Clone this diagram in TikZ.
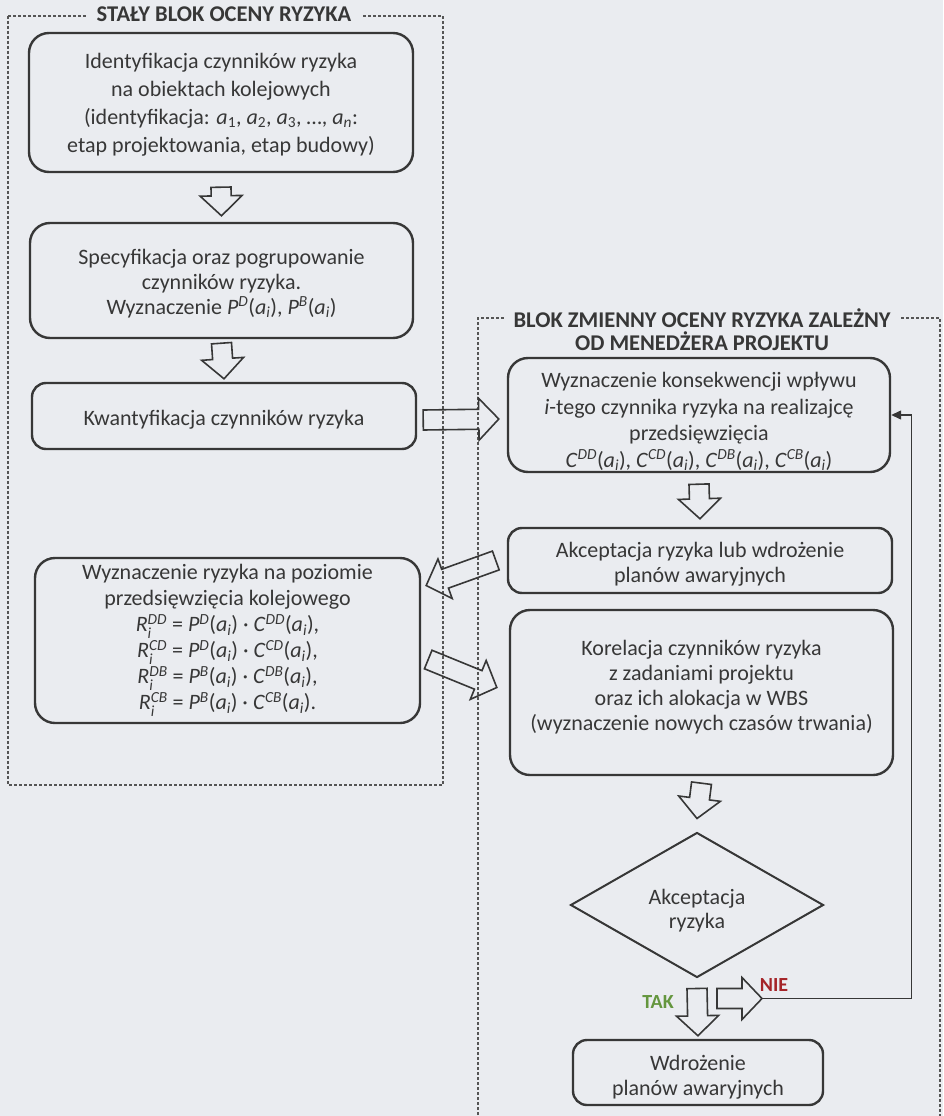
\documentclass[tikz,border=0pt]{standalone}
\usepackage{amsmath}
\usepackage{fontspec}
\setmainfont{Carlito}
\usetikzlibrary{calc,shapes.geometric,arrows.meta}

\definecolor{pagebg}{RGB}{234,236,240}
\definecolor{ink}{RGB}{55,55,55}
\definecolor{framec}{RGB}{85,85,85}
\definecolor{takgreen}{RGB}{100,150,62}
\definecolor{niered}{RGB}{165,36,40}

% italic symbols with indices
\newcommand{\probP}[1]{\textit{P}\textsuperscript{\textit{#1}}}
\newcommand{\consC}[1]{\textit{C}\textsuperscript{\textit{#1}}}
\newcommand{\riskR}[1]{\textit{R}$^{\textit{#1}}_{\textit{i}}$}
\newcommand{\argai}{(\textit{a}\textsubscript{\textit{i}})}
\newcommand{\avar}[1]{\textit{a}\textsubscript{#1}}
% centred block of lines, moved down by #1 inside its node
\newcommand{\lowered}[2]{\raisebox{-#1}[\height][\depth]{%
  \begin{tabular}{@{}c@{}}#2\end{tabular}}}

\tikzset{
  box/.style={draw=ink, line width=2.4pt, rounded corners=20pt, align=center,
    text=ink, inner sep=0pt, font=\fontsize{22}{25}\selectfont},
  smallbox/.style={box, rounded corners=14pt},
  decision/.style={diamond, draw=ink, line width=2pt, align=center, text=ink,
    inner sep=0pt, font=\fontsize{22}{24}\selectfont},
  frame/.style={draw=framec, line width=1.2pt, dash pattern=on 3pt off 2pt},
  frametitle/.style={fill=pagebg, text=ink, align=center, inner ysep=1pt,
    font=\fontsize{22.5}{23}\selectfont\bfseries},
  blockarrow/.style={draw=ink, line width=1.6pt, line join=miter,
    to path={let \p1=(\tikztostart), \p2=(\tikztotarget),
      \n1={atan2(\y2-\y1,\x2-\x1)}, \n2={veclen(\x2-\x1,\y2-\y1)} in
      ($(\p1)+(\n1+90:10pt)$)
      -- ($(\p1)+(\n1+90:10pt)+(\n1:\n2-20pt)$)
      -- ($(\p1)+(\n1+90:21pt)+(\n1:\n2-20pt)$)
      -- (\p2)
      -- ($(\p1)+(\n1-90:21pt)+(\n1:\n2-20pt)$)
      -- ($(\p1)+(\n1-90:10pt)+(\n1:\n2-20pt)$)
      -- ($(\p1)+(\n1-90:10pt)$) -- cycle}},
  feedback/.style={draw=ink, line width=1.3pt, -{Triangle[length=10pt,width=9pt]}},
  answer/.style={font=\fontsize{20}{22}\selectfont\bfseries}
}

\begin{document}
\begin{tikzpicture}[x=1pt,y=-1pt]
\fill[pagebg] (0,0) rectangle (943,1116);
\useasboundingbox (0,0) rectangle (943,1116);

% ---- fixed block -------------------------------------------------------
\draw[frame] (8,16) rectangle (443,785);
\node[frametitle, inner xsep=11pt] (tleft) at (224,14) {STAŁY BLOK OCENY RYZYKA};

\node[box, minimum width=384pt, minimum height=139pt,
      font=\fontsize{22}{28}\selectfont] (b1) at (221,102.5)
  {\lowered{2pt}{Identyfikacja czynników ryzyka\\
   na obiektach kolejowych\\
   (identyfikacja: \avar{1}, \avar{2}, \avar{3}, …, \avar{\textit{n}}:\\
   etap projektowania, etap budowy)}};

\node[box, minimum width=383pt, minimum height=115pt] (b2) at (221.5,280.5)
  {\lowered{4pt}{Specyfikacja oraz pogrupowanie\\
   czynników ryzyka.\\
   Wyznaczenie \probP{D}\argai, \probP{B}\argai}};

\node[smallbox, minimum width=384pt, minimum height=66pt] (b3) at (224,416)
  {\lowered{4pt}{Kwantyfikacja czynników ryzyka}};

\node[box, minimum width=385pt, minimum height=165pt,
      font=\fontsize{22}{26}\selectfont] (b4) at (227.5,640.5)
  {Wyznaczenie ryzyka na poziomie\\
   przedsięwzięcia kolejowego\\
   \riskR{DD} = \probP{D}\argai{} · \consC{DD}\argai,\\
   \riskR{CD} = \probP{D}\argai{} · \consC{CD}\argai,\\
   \riskR{DB} = \probP{B}\argai{} · \consC{DB}\argai,\\
   \riskR{CB} = \probP{B}\argai{} · \consC{CB}\argai.};

% ---- variable block ----------------------------------------------------
\draw[frame] (478,1125) -- (478,318) -- (940,318) -- (940,1125);
\node[frametitle, inner xsep=9pt] (tright) at (702,330)
  {BLOK ZMIENNY OCENY RYZYKA ZALEŻNY\\OD MENEDŻERA PROJEKTU};

\node[box, minimum width=382pt, minimum height=114pt,
      font=\fontsize{22}{26.5}\selectfont] (b5) at (699,415)
  {\lowered{7pt}{Wyznaczenie konsekwencji wpływu\\
   \textit{i}-tego czynnika ryzyka na realizajcę\\
   przedsięwzięcia\\
   \consC{DD}\argai, \consC{CD}\argai, \consC{DB}\argai, \consC{CB}\argai}};

\node[smallbox, minimum width=384pt, minimum height=65pt] (b6) at (700,560.5)
  {\lowered{4pt}{Akceptacja ryzyka lub wdrożenie\\planów awaryjnych}};

\node[box, minimum width=383pt, minimum height=165pt] (b7) at (701.5,692.5)
  {\lowered{-5pt}{Korelacja czynników ryzyka\\
   z zadaniami projektu\\
   oraz ich alokacja w WBS\\
   (wyznaczenie nowych czasów trwania)}};

\node[decision, minimum width=253pt, minimum height=145pt] (dia) at (697,905)
  {\lowered{7pt}{Akceptacja\\ryzyka}};

\node[smallbox, minimum width=250pt, minimum height=65pt] (b8) at (698,1072.5)
  {\lowered{5pt}{Wdrożenie\\planów awaryjnych}};

% ---- block arrows ------------------------------------------------------
\draw[blockarrow] ([yshift=-14pt]b1.south) to ([yshift=6pt]b2.north);
\draw[blockarrow] ([yshift=-4pt]b2.south) to ([yshift=3pt]b3.north);
\draw[blockarrow] ([xshift=6pt,yshift=-4pt]b3.east) to ([xshift=-8pt,yshift=-4pt]b5.west);
\draw[blockarrow] ([yshift=-11pt]b5.south) to ([yshift=8pt]b6.north);
\draw[blockarrow] ([xshift=-11pt]b6.west) to ([xshift=5pt,yshift=55pt]b4.east);
\draw[blockarrow] ([xshift=7pt,yshift=-19pt]b4.east) to ([xshift=-12pt,yshift=5pt]b7.west);
\draw[blockarrow] ([yshift=-7pt]b7.south) to ([yshift=13pt]dia.north);
\draw[blockarrow] ([yshift=-10pt]dia.south) to ([yshift=3pt]b8.north);

\coordinate (nietail) at ([xshift=20pt,yshift=-20pt]dia.south);
\coordinate (nieend)  at ([xshift=65pt,yshift=-20pt]dia.south);
\draw[blockarrow] (nietail) to (nieend);

% loop back to the consequence step
\coordinate (fbx) at ([xshift=20pt]b5.east);
\draw[feedback] (nieend) -- (nieend -| fbx) |- (b5.east);

% ---- decision labels ---------------------------------------------------
\node[answer, text=takgreen] (tak) at (658,1002) {TAK};
\node[answer, text=niered]  (nie) at (774,985) {NIE};
\end{tikzpicture}
\end{document}
